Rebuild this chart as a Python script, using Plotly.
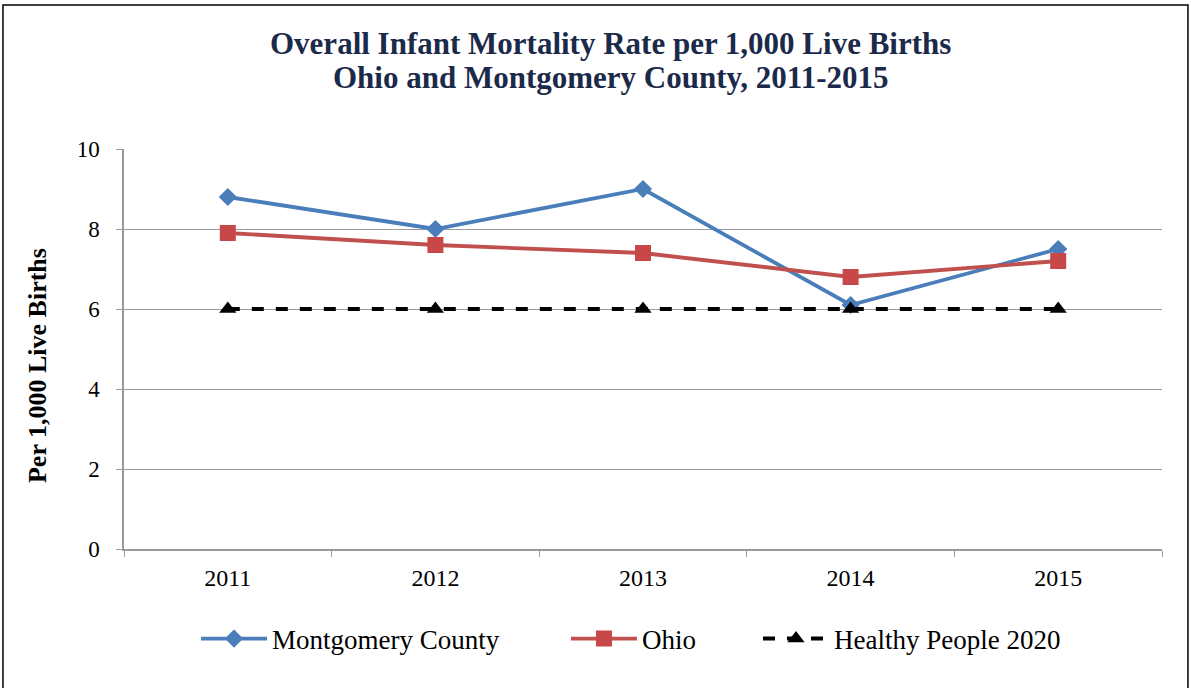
import plotly.graph_objects as go

years = ["2011", "2012", "2013", "2014", "2015"]
montgomery = [8.8, 8.0, 9.0, 6.1, 7.5]
ohio = [7.9, 7.6, 7.4, 6.8, 7.2]
healthy_people = [6.0, 6.0, 6.0, 6.0, 6.0]
y_ticks = [0, 2, 4, 6, 8, 10]
title_lines = ["Overall Infant Mortality Rate per 1,000 Live Births",
               "Ohio and Montgomery County, 2011-2015"]
y_title = "Per 1,000 Live Births"

SERIF = "Liberation Serif, Times New Roman, serif"

fig = go.Figure()
fig.add_trace(go.Scatter(
    x=years, y=montgomery, name="Montgomery County", mode="lines+markers",
    line=dict(color="#4A7EBB", width=3.8),
    marker=dict(symbol="diamond", size=14, color="#4A7EBB"),
    legend="legend",
))
fig.add_trace(go.Scatter(
    x=years, y=ohio, name="Ohio", mode="lines+markers",
    line=dict(color="#C0504D", width=3.8),
    marker=dict(symbol="square", size=16, color="#C8484A"),
    legend="legend2",
))
fig.add_trace(go.Scatter(
    x=years, y=healthy_people, name="Healthy People 2020", mode="lines+markers",
    line=dict(color="black", width=4, dash="dash"),
    marker=dict(symbol="triangle-up", size=15, color="black"),
    legend="legend3",
))

annotations = []
for i, line in enumerate(title_lines):
    annotations.append(dict(
        text="<b>" + line + "</b>", xref="paper", yref="paper",
        x=0.469, xanchor="center", y=[1.265, 1.178][i], yanchor="middle",
        showarrow=False, font=dict(family=SERIF, size=31, color="#1C2A4A"),
    ))
annotations.append(dict(
    text="<b>" + y_title + "</b>", xref="paper", yref="paper",
    x=-0.0838, xanchor="center", y=0.4575, yanchor="middle", textangle=-90,
    showarrow=False, font=dict(family=SERIF, size=26, color="black"),
))

def legend_at(x):
    return dict(
        orientation="h", x=x, xanchor="left", y=-0.225, yanchor="middle",
        font=dict(family=SERIF, size=27, color="black"),
        itemwidth=66, bgcolor="rgba(0,0,0,0)",
    )

fig.update_layout(
    width=1191, height=688,
    paper_bgcolor="white", plot_bgcolor="white",
    margin=dict(l=124, r=29, t=149, b=139),
    font=dict(family=SERIF, color="black"),
    annotations=annotations,
    showlegend=True,
    legend=legend_at(0.0694),
    legend2=legend_at(0.4258),
    legend3=legend_at(0.6108),
    xaxis=dict(
        type="category", range=[-0.5, 4.5],
        showline=True, linecolor="#9a9a9a", linewidth=1.5,
        ticks="outside", tickson="boundaries", ticklen=6, tickcolor="#9a9a9a",
        showgrid=False, ticklabelstandoff=6,
        tickfont=dict(family=SERIF, size=24, color="black"),
    ),
    yaxis=dict(
        range=[0, 10], tickvals=y_ticks,
        showline=True, linecolor="#9a9a9a", linewidth=1.5,
        ticks="outside", ticklen=6, tickcolor="#9a9a9a",
        showgrid=True, gridcolor="#9a9a9a", gridwidth=1.2,
        zeroline=False, ticklabelstandoff=12,
        tickfont=dict(family=SERIF, size=23, color="black"),
    ),
    shapes=[dict(
        type="rect", xref="paper", yref="paper",
        x0=-0.1166, x1=1.025, y0=-0.36, y1=1.36,
        line=dict(color="black", width=1.5), fillcolor="rgba(0,0,0,0)", layer="below",
    )],
)

fig.write_html("out.html", config={"displayModeBar": False},
               post_script="document.body.style.margin='0';")
